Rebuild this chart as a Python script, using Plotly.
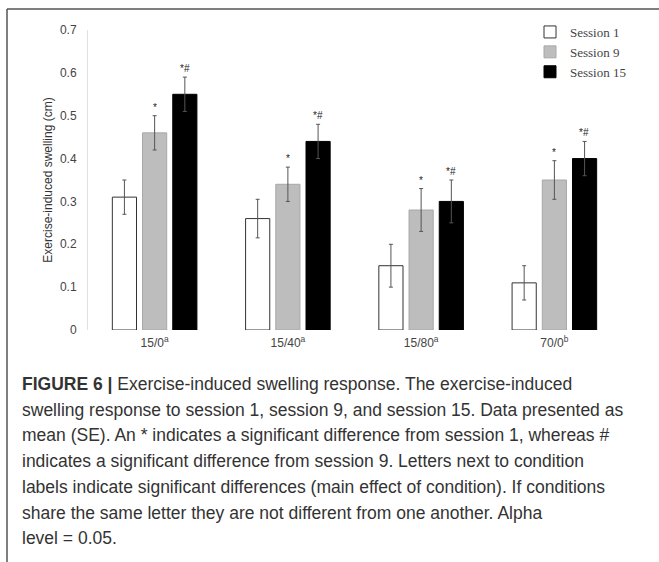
import plotly.graph_objects as go

conditions = ["15/0<sup>a</sup>", "15/40<sup>a</sup>", "15/80<sup>a</sup>", "70/0<sup>b</sup>"]
sessions = ["Session 1", "Session 9", "Session 15"]
session1 = [0.31, 0.26, 0.15, 0.11]
session9 = [0.46, 0.34, 0.28, 0.35]
session15 = [0.55, 0.44, 0.30, 0.40]
se1 = [0.04, 0.045, 0.05, 0.04]
se9 = [0.04, 0.04, 0.05, 0.045]
se15 = [0.04, 0.04, 0.05, 0.04]
marks9 = ["*", "*", "*", "*"]
marks15 = ["*#", "*#", "*#", "*#"]

caption_lines = [
    "<b>FIGURE 6 |</b> Exercise-induced swelling response. The exercise-induced",
    "swelling response to session 1, session 9, and session 15. Data presented as",
    "mean (SE). An * indicates a significant difference from session 1, whereas #",
    "indicates a significant difference from session 9. Letters next to condition",
    "labels indicate significant differences (main effect of condition). If conditions",
    "share the same letter they are not different from one another. Alpha",
    "level = 0.05.",
]

fills = ["#ffffff", "#bdbdbd", "#000000"]
outlines = ["#333333", "#a8a8a8", "#000000"]
values = [session1, session9, session15]
errors = [se1, se9, se15]

fig = go.Figure()
for name, v, e, fc, lc in zip(sessions, values, errors, fills, outlines):
    fig.add_trace(go.Bar(
        x=conditions, y=v, name=name,
        marker=dict(color=fc, line=dict(color=lc, width=1)),
        error_y=dict(type="data", array=e, color="#555555", thickness=1, width=2),
    ))

annotations = []
offsets = [0, 30]
for marks, v, e, off in zip([marks9, marks15], [session9, session15], [se9, se15], offsets):
    for c, m, val, err in zip(conditions, marks, v, e):
        annotations.append(dict(
            x=c, y=val + err, text=m, showarrow=False, xshift=off,
            yanchor="bottom", yshift=1,
            font=dict(family="Liberation Sans", size=10, color="#222"),
        ))

line_h = 25.7
for i, t in enumerate(caption_lines):
    py = 384 + i * line_h
    annotations.append(dict(
        xref="paper", yref="paper", x=(20 - 88) / 533, y=(330 - py) / 300,
        xanchor="left", yanchor="middle", showarrow=False, text=t,
        font=dict(family="Liberation Sans", size=17.5, color="#333333"),
    ))

shapes = [
    dict(type="line", xref="paper", yref="paper", layer="above",
         x0=(7 - 88) / 533, x1=(659 - 88) / 533, y0=(330 - 9) / 300, y1=(330 - 9) / 300,
         line=dict(color="#555555", width=1.5)),
    dict(type="line", xref="paper", yref="paper", layer="above",
         x0=(7 - 88) / 533, x1=(7 - 88) / 533, y0=(330 - 9) / 300, y1=(330 - 566) / 300,
         line=dict(color="#555555", width=1.5)),
]

fig.update_layout(
    width=659, height=562,
    margin=dict(l=88, r=38, t=30, b=232),
    paper_bgcolor="white", plot_bgcolor="white",
    barmode="group", bargap=0.32, bargroupgap=0.2,
    showlegend=True,
    legend=dict(x=(530 - 88) / 533, y=(330 - 17) / 300, xanchor="left", yanchor="top",
                font=dict(family="Liberation Serif", size=13, color="#444"),
                bgcolor="rgba(0,0,0,0)", itemwidth=30, tracegroupgap=0),
    annotations=annotations,
    shapes=shapes,
    font=dict(family="Liberation Sans", color="#444"),
)
fig.update_xaxes(showline=False, showgrid=False, ticks="", ticklabelstandoff=4,
                 tickfont=dict(family="Liberation Sans", size=12, color="#444"))
fig.update_yaxes(range=[0, 0.7], dtick=0.1, showgrid=False, zeroline=False,
                 showline=True, linecolor="#e0e0e0", linewidth=1, ticks="",
                 ticklabelstandoff=8,
                 tickfont=dict(family="Liberation Sans", size=12, color="#444"),
                 title=dict(text="Exercise-induced swelling (cm)",
                            font=dict(family="Liberation Sans", size=12, color="#333"),
                            standoff=4))

fig.write_html("out.html", config={"displayModeBar": False},
               post_script="document.body.style.margin='0px';")
